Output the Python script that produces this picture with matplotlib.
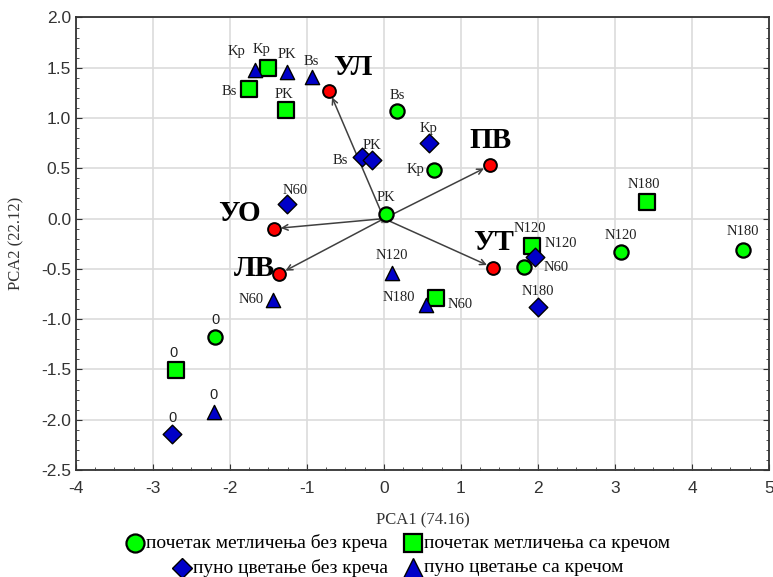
import matplotlib.pyplot as plt
from matplotlib.lines import Line2D
from matplotlib.ticker import MultipleLocator

plt.rcParams["axes.unicode_minus"] = False

SERIF = "Liberation Serif"
SANS = "Liberation Sans"

# почетак метличења без креча (green circles)
gc_lbl = ["PK", "Bs", "Kp", "N60", "N120", "N180", "0"]
gc_x = [0.03, 0.17, 0.65, 1.82, 3.08, 4.66, -2.19]
gc_y = [0.05, 1.07, 0.48, -0.48, -0.33, -0.31, -1.18]

# почетак метличења са кречом (green squares)
gs_lbl = ["Kp", "Bs", "PK", "N180", "N120", "N60", "0"]
gs_x = [-1.51, -1.75, -1.27, 3.41, 1.92, 0.67, -2.70]
gs_y = [1.50, 1.29, 1.08, 0.17, -0.27, -0.79, -1.51]

# пуно цветање без креча (blue diamonds)
bd_lbl = ["Bs", "PK", "Kp", "N60", "N120", "N180", "0"]
bd_x = [-0.28, -0.15, 0.58, -1.26, 1.96, 2.00, -2.75]
bd_y = [0.61, 0.58, 0.75, 0.15, -0.38, -0.88, -2.14]

# пуно цветање са кречом (blue triangles)
bt_lbl = ["Kp", "PK", "Bs", "N120", "N180", "N60", "0"]
bt_x = [-1.68, -1.26, -0.93, 0.10, 0.55, -1.44, -2.21]
bt_y = [1.48, 1.46, 1.41, -0.54, -0.86, -0.81, -1.92]

# variable vectors
var_lbl = ["УЛ", "ПВ", "УО", "ЛВ", "УТ"]
var_x = [-0.71, 1.38, -1.43, -1.36, 1.42]
var_y = [1.27, 0.53, -0.10, -0.55, -0.49]

legend_lbl = ["почетак метличења без креча", "почетак метличења са кречом",
              "пуно цветање без креча", "пуно цветање са кречом"]

# label offsets (pixels) and alignment per point
gc_off = [(0, 16, "center"), (0, 16, "center"), (-10, 1, "right"), (19, -1, "left"),
          (0, 16, "center"), (0, 18, "center"), (0, 17, "center")]
gs_off = [(-6, 18, "center"), (-12, -3, "right"), (-2, 16, "center"), (-3, 17, "center"),
          (-2, 17, "center"), (12, -6, "left"), (-3, 17, "center")]
bd_off = [(-14, -3, "right"), (-1, 15, "center"), (0, 15, "center"), (8, 13, "center"),
          (10, 13, "left"), (0, 16, "center"), (0, 16, "center")]
bt_off = [(-18, 18, "center"), (0, 17, "center"), (-1, 15, "center"), (0, 17, "center"),
          (-11, 8, "right"), (-9, 1, "right"), (0, 17, "center")]
var_off = [(23, 23), (0, 25), (-34, 15), (-25, 5), (0, 25)]

GREEN = "#00ff00"
BLUE = "#0000c8"
W, H = 773, 577

fig = plt.figure(figsize=(W / 100, H / 100), dpi=100)
ax = fig.add_axes([0.0983, 0.1854, 0.8965, 0.7843])

ax.set_xlim(-4, 5)
ax.set_ylim(-2.5, 2.0)
ax.xaxis.set_major_locator(MultipleLocator(1))
ax.xaxis.set_minor_locator(MultipleLocator(0.25))
ax.yaxis.set_major_locator(MultipleLocator(0.5))
ax.yaxis.set_minor_locator(MultipleLocator(0.1))
ax.set_yticks(ax.get_yticks())
ax.set_yticklabels([f"{v:.1f}" for v in ax.get_yticks()])
ax.set_ylim(-2.5, 2.0)
ax.grid(True, which="major", color="#dcdcdc", lw=1.2)
ax.set_axisbelow(True)
ax.tick_params(which="both", direction="in", right=True, top=False, colors="#333333",
               labelsize=12.5, labelcolor="#333333")
ax.tick_params(which="major", length=4)
ax.tick_params(which="minor", length=2)
ax.tick_params(axis="x", pad=8)
for lab in ax.get_xticklabels() + ax.get_yticklabels():
    lab.set_fontfamily(SANS)
for s in ax.spines.values():
    s.set_color("#333333")
    s.set_linewidth(1.3)

# arrows from origin
for x, y in zip(var_x, var_y):
    ax.annotate("", xy=(x, y), xytext=(0, 0),
                arrowprops=dict(arrowstyle="->", color="#404040", lw=1.1,
                                shrinkA=0, shrinkB=5, mutation_scale=10))
ax.plot([0], [0], marker="s", ms=5, color="#808080", zorder=4)

ax.scatter(var_x, var_y, marker="o", s=85, c="#ff0000", edgecolors="black", lw=1.4, zorder=5)
ax.scatter(gc_x, gc_y, marker="o", s=105, c=GREEN, edgecolors="black", lw=1.6, zorder=5)
ax.scatter(gs_x, gs_y, marker="s", s=130, c=GREEN, edgecolors="black", lw=1.6, zorder=5)
ax.scatter(bd_x, bd_y, marker="D", s=90, c=BLUE, edgecolors="black", lw=1.0, zorder=5)
ax.scatter(bt_x, bt_y, marker="^", s=105, c=BLUE, edgecolors="black", lw=1.0, zorder=5)


def put_labels(lbls, xs, ys, offs):
    for t, x, y, (dx, dy, ha) in zip(lbls, xs, ys, offs):
        fam = SANS if t == "0" else SERIF
        ax.annotate(t, (x, y), xytext=(dx, dy), textcoords="offset pixels",
                    ha=ha, va="center", fontsize=10.5, family=fam, color="#222222", zorder=6)


put_labels(gc_lbl, gc_x, gc_y, gc_off)
put_labels(gs_lbl, gs_x, gs_y, gs_off)
put_labels(bd_lbl, bd_x, bd_y, bd_off)
put_labels(bt_lbl, bt_x, bt_y, bt_off)

for t, x, y, (dx, dy) in zip(var_lbl, var_x, var_y, var_off):
    ax.annotate(t, (x, y), xytext=(dx, dy), textcoords="offset pixels",
                ha="center", va="center", fontsize=21, fontweight="bold",
                family=SERIF, color="black", zorder=6)

ax.set_xlabel("PCA1 (74.16)", family=SERIF, fontsize=12, color="#333333", labelpad=12)
ax.set_ylabel("PCA2 (22.12)", family=SERIF, fontsize=12, color="#333333", labelpad=12)

# legend by hand: left column right-aligned, right column left-aligned
styles = [
    dict(marker="o", ms=13, mfc=GREEN, mec="black", mew=1.6),
    dict(marker="s", ms=13, mfc=GREEN, mec="black", mew=1.6),
    dict(marker="D", ms=10, mfc=BLUE, mec="black", mew=1.0),
    dict(marker="^", ms=14, mfc=BLUE, mec="black", mew=1.0),
]
row_y = [1 - 543 / H, 1 - 568 / H]
col1_right = 388 / W
col2_marker = 413 / W
gap = 11 / W
texts = []
for i, (lbl, st) in enumerate(zip(legend_lbl, styles)):
    y = row_y[i // 2]
    if i % 2 == 0:
        t = fig.text(col1_right, y, lbl, ha="right", va="center", family=SERIF, fontsize=14)
    else:
        t = fig.text(col2_marker + gap, y, lbl, ha="left", va="center", family=SERIF, fontsize=14)
        fig.add_artist(Line2D([col2_marker], [y], ls="", transform=fig.transFigure, **st))
    texts.append(t)

fig.canvas.draw()
inv = fig.transFigure.inverted()
for i in (0, 2):
    bb = texts[i].get_window_extent()
    x0 = inv.transform((bb.x0, bb.y0))[0]
    fig.add_artist(Line2D([x0 - gap], [row_y[i // 2]], ls="", transform=fig.transFigure,
                          **styles[i]))

fig.savefig("out.png", dpi=100)
